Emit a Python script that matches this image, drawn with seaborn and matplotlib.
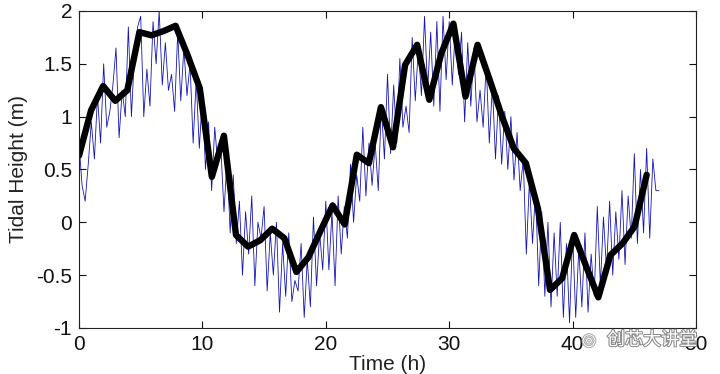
import numpy as np
import matplotlib
matplotlib.use("Agg")
import matplotlib.pyplot as plt
import matplotlib.patheffects as pe
import seaborn as sns

# ---- data ----
# noisy measured tide (every 0.25 h from 0 to 47 h)
raw_height = [
    0.75, 0.35, 0.2, 0.55,
    0.95, 0.6, 1.2, 0.75,
    1.5, 0.9, 1.05, 1.3,
    1.65, 0.8, 1.25, 1.0,
    1.85, 1.0, 1.6, 1.85,
    1.95, 1.0, 1.45, 1.1,
    1.9, 1.5, 2.0, 1.3,
    1.7, 1.25, 1.4, 1.05,
    1.8, 1.15, 1.65, 1.2,
    1.5, 0.75, 1.35, 0.7,
    1.2, 0.5, 0.95, 0.3,
    0.9, 0.55, 0.7, 0.1,
    0.6, -0.1, 0.45, -0.2,
    0.2, -0.5, 0.1, -0.3,
    0.25, -0.6, 0.0, -0.15,
    0.15, -0.65, -0.1, -0.5,
    0.0, -0.85, -0.2, -0.7,
    -0.1, -0.75, -0.55, -0.65,
    -0.2, -0.9, -0.35, -0.8,
    0.05, -0.6, -0.1, -0.45,
    0.2, -0.45, 0.1, -0.6,
    0.25, -0.3, 0.15, -0.15,
    0.55, 0.0, 0.45, 0.2,
    0.9, 0.25, 0.75, 0.35,
    0.75, 0.3, 1.1, 0.6,
    1.4, 0.65, 1.3, 0.75,
    1.55, 0.9, 1.1, 0.85,
    1.75, 1.15, 1.65, 1.2,
    1.95, 1.25, 1.8, 1.1,
    1.9, 1.05, 1.95, 1.35,
    1.9, 1.3, 1.85, 1.4,
    1.8, 0.95, 1.7, 1.1,
    1.65, 0.95, 1.25, 0.9,
    1.5, 0.75, 1.3, 0.6,
    1.2, 0.55, 1.05, 0.5,
    1.0, 0.4, 0.85, 0.3,
    0.6, -0.3, 0.4, -0.2,
    0.3, -0.6, 0.1, -0.7,
    0.0, -0.8, -0.1, -0.7,
    0.0, -0.9, -0.2, -0.95,
    -0.1, -0.9, -0.25, -0.8,
    -0.1, -0.85, -0.3, -0.7,
    0.15, -0.6, 0.05, -0.45,
    0.2, -0.5, 0.1, -0.35,
    0.3, -0.4, 0.25, -0.15,
    0.65, -0.2, 0.5, -0.1,
    0.7, -0.15, 0.6, 0.3,
    0.3,
]
raw_time = np.arange(len(raw_height)) * 0.25

# smoothed / averaged tide (48 samples over 0..46 h)
avg_time = np.linspace(0, 46, 48)
avg_height = [
    0.63, 1.06, 1.29, 1.15, 1.25, 1.80, 1.77, 1.81, 1.86, 1.58,
    1.27, 0.43, 0.82, -0.12, -0.23, -0.17, -0.06, -0.15, -0.47, -0.33,
    -0.08, 0.16, -0.02, 0.64, 0.56, 1.09, 0.71, 1.49, 1.68, 1.16,
    1.60, 1.88, 1.19, 1.68, 1.35, 1.01, 0.70, 0.56, 0.13, -0.64,
    -0.53, -0.12, -0.42, -0.71, -0.31, -0.20, -0.04, 0.45,
]

x_ticks = [0, 10, 20, 30, 40, 50]
y_ticks = [-1, -0.5, 0, 0.5, 1, 1.5, 2]
y_tick_labels = ["-1", "-0.5", "0", "0.5", "1", "1.5", "2"]

# ---- plot ----
sns.set_style("ticks")
plt.rcParams["font.family"] = ["Liberation Sans", "DejaVu Sans"]

fig = plt.figure(figsize=(7.2, 3.74), dpi=100)
ax = fig.add_axes([0.1097, 0.123, 0.857, 0.8476])

sns.lineplot(x=raw_time, y=raw_height, ax=ax, color="#1414b4",
             linewidth=0.6, estimator=None, sort=False)
sns.lineplot(x=avg_time, y=avg_height, ax=ax, color="black",
             linewidth=4.6, estimator=None, sort=False)
for l in ax.lines[1:]:
    l.set_solid_joinstyle("round")
    l.set_solid_capstyle("round")

ax.set_xlim(0, 50)
ax.set_ylim(-1, 2)
ax.set_xticks(x_ticks)
ax.set_xticklabels([str(v) for v in x_ticks])
ax.set_yticks(y_ticks)
ax.set_yticklabels(y_tick_labels)
ax.tick_params(direction="in", length=5, width=0.8, top=True, right=True,
               labelsize=15, colors="#111111", pad=5)
for s in ax.spines.values():
    s.set_visible(True)
    s.set_linewidth(0.8)
    s.set_color("#222222")

ax.set_xlabel("Time (h)", fontsize=15, labelpad=1, color="#222222")
ax.set_ylabel("Tidal Height (m)", fontsize=15, labelpad=6, color="#222222")

# watermark
fig.text(0.843, 0.091, "创芯大讲堂", fontsize=13, color="white",
         family=["Noto Sans CJK SC", "DejaVu Sans"], ha="left", va="center",
         path_effects=[pe.withStroke(linewidth=1.5, foreground="#8a8a8a")])
fig.text(0.818, 0.091, "◎", fontsize=12, color="white", ha="center", va="center",
         family=["DejaVu Sans"],
         path_effects=[pe.withStroke(linewidth=1.5, foreground="#aaaaaa")])

fig.savefig("out.png", dpi=100)
